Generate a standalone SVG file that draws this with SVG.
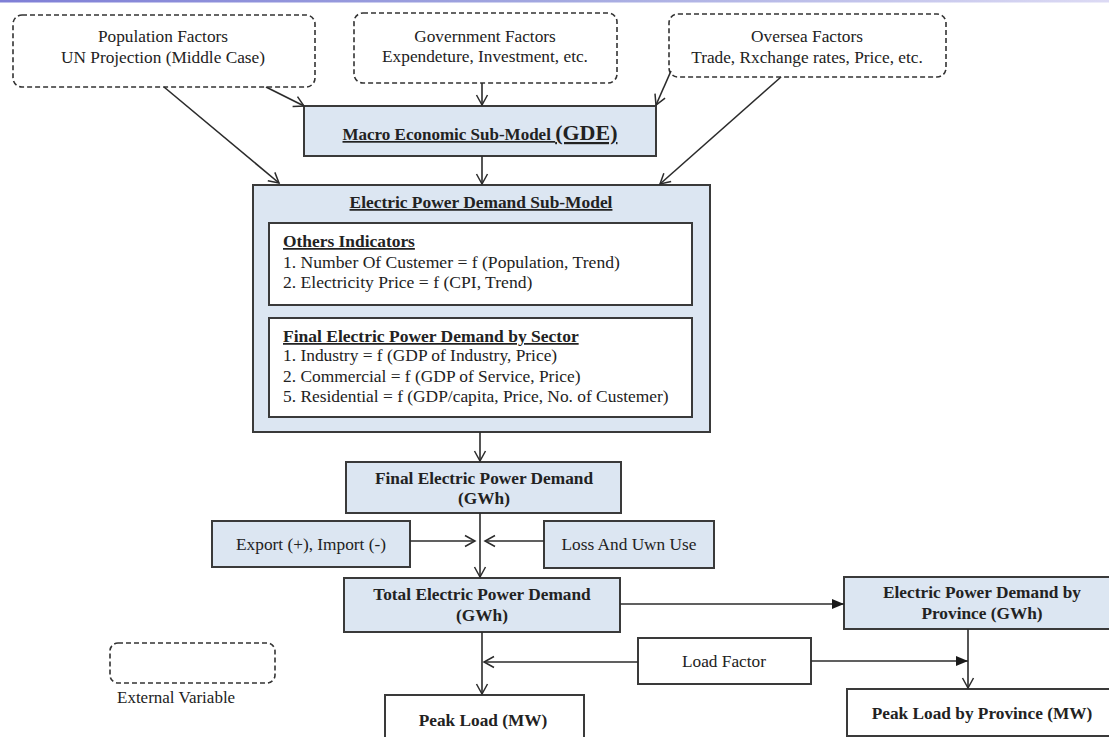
<svg xmlns="http://www.w3.org/2000/svg" width="1109" height="737" viewBox="0 0 1109 737" font-family="'Liberation Serif', 'Times New Roman', serif">
  <defs>
    <linearGradient id="topband" x1="0" y1="0" x2="1" y2="0">
      <stop offset="0" stop-color="#7f7fd6"/>
      <stop offset="0.5" stop-color="#a3a8e0"/>
      <stop offset="1" stop-color="#dcdaf4"/>
    </linearGradient>
    <marker id="open" markerUnits="userSpaceOnUse" markerWidth="14" markerHeight="14" refX="11" refY="7" orient="auto">
      <path d="M1,1.5 L11,7 L1,12.5" fill="none" stroke="#2b2b2b" stroke-width="1.5"/>
    </marker>
    <marker id="solid" markerUnits="userSpaceOnUse" markerWidth="14" markerHeight="14" refX="12" refY="7" orient="auto">
      <path d="M0,2 L12,7 L0,12 Z" fill="#1a1a1a"/>
    </marker>
  </defs>
  <style>
    .ext { fill: #ffffff; stroke: #333333; stroke-width: 1.6; stroke-dasharray: 5 3; }
    .blue { fill: #dce6f2; stroke: #3a3a3a; stroke-width: 2; }
    .white { fill: #ffffff; stroke: #3a3a3a; stroke-width: 2; }
    text { font-family: 'Liberation Serif', 'Times New Roman', serif; fill: #222222; }
    .n { font-size: 17.3px; }
    .b { font-size: 17.3px; font-weight: bold; }
    .c { text-anchor: middle; }
    .u { text-decoration: underline; }
    .line { stroke: #2b2b2b; stroke-width: 1.6; fill: none; }
  </style>

  <rect x="0" y="0" width="1109" height="2.5" fill="url(#topband)"/>

  <!-- external inputs -->
  <g id="population">
    <rect class="ext" x="13" y="15" width="302" height="72" rx="9"/>
    <text class="n c" x="163" y="42">Population Factors</text>
    <text class="n c" x="163" y="63">UN Projection (Middle Case)</text>
  </g>
  <g id="government">
    <rect class="ext" x="354" y="13" width="263" height="70" rx="9"/>
    <text class="n c" x="485" y="42">Government Factors</text>
    <text class="n c" x="485" y="62">Expendeture, Investment, etc.</text>
  </g>
  <g id="oversea">
    <rect class="ext" x="669" y="14" width="277" height="63" rx="9"/>
    <text class="n c" x="807" y="42">Oversea Factors</text>
    <text class="n c" x="807" y="63">Trade, Rxchange  rates, Price, etc.</text>
  </g>

  <!-- macro model -->
  <g id="macro">
    <rect class="blue" x="304" y="106" width="352" height="50"/>
    <text class="c u" x="480" y="140" font-weight="bold" font-size="17px">Macro Economic Sub-Model <tspan font-size="22px">(GDE)</tspan></text>
  </g>

  <!-- demand model -->
  <g id="demand-submodel">
    <rect class="blue" x="253" y="185" width="457" height="247"/>
    <text class="c u" x="481" y="208" font-weight="bold" font-size="17.4px">Electric Power Demand Sub-Model</text>
  </g>
  <g id="others-indicators">
    <rect class="white" x="269" y="223" width="423" height="82"/>
    <text class="u" x="283" y="247" font-weight="bold" font-size="17.4px">Others Indicators</text>
    <text x="283" y="268" font-size="17.6px">1. Number Of Custemer = f (Population, Trend)</text>
    <text x="283" y="288" font-size="17.6px">2. Electricity  Price = f (CPI, Trend)</text>
  </g>
  <g id="sector-demand">
    <rect class="white" x="269" y="318" width="423" height="99"/>
    <text class="u" x="283" y="342" font-weight="bold" font-size="17.5px">Final Electric Power Demand by  Sector</text>
    <text x="283" y="361" font-size="17.4px">1. Industry = f (GDP of Industry, Price)</text>
    <text x="283" y="382" font-size="17.4px">2. Commercial  = f (GDP of Service,  Price)</text>
    <text x="283" y="402" font-size="17.4px">5. Residential = f (GDP/capita, Price, No. of Custemer)</text>
  </g>

  <g id="final-demand">
    <rect class="blue" x="346" y="462" width="275" height="51"/>
    <text class="b c" x="484" y="484">Final Electric Power Demand</text>
    <text class="b c" x="484" y="504">(GWh)</text>
  </g>
  <g id="export-import">
    <rect class="blue" x="212" y="521" width="198" height="46"/>
    <text class="n c" x="311" y="550">Export (+), Import (-)</text>
  </g>
  <g id="loss-own-use">
    <rect class="blue" x="544" y="521" width="170" height="47"/>
    <text class="n c" x="629" y="550">Loss And Uwn Use</text>
  </g>
  <g id="total-demand">
    <rect class="blue" x="344" y="578" width="276" height="54"/>
    <text class="b c" x="482" y="600">Total Electric Power Demand</text>
    <text class="b c" x="482" y="621">(GWh)</text>
  </g>
  <g id="province-demand">
    <rect class="blue" x="844" y="577" width="270" height="52"/>
    <text class="b c" x="982" y="598" font-size="17px">Electric Power Demand by</text>
    <text class="b c" x="982" y="619" font-size="17px">Province (GWh)</text>
  </g>
  <g id="load-factor">
    <rect class="white" x="638" y="638" width="173" height="46"/>
    <text class="n c" x="724" y="667">Load Factor</text>
  </g>
  <g id="peak-load">
    <rect class="white" x="385" y="695" width="199" height="50"/>
    <text class="b c" x="483" y="726">Peak Load  (MW)</text>
  </g>
  <g id="peak-load-province">
    <rect class="white" x="847" y="689" width="270" height="47"/>
    <text class="b c" x="982" y="719">Peak Load  by  Province (MW)</text>
  </g>

  <!-- legend -->
  <g id="legend">
    <rect class="ext" x="110" y="643" width="165" height="40" rx="8"/>
    <text x="117" y="703" font-size="17px">External  Variable</text>
  </g>

  <!-- connectors -->
  <g id="connectors">
    <line class="line" x1="164" y1="87" x2="279" y2="183" marker-end="url(#open)"/>
    <line class="line" x1="266" y1="87" x2="304" y2="106" marker-end="url(#open)"/>
    <line class="line" x1="482" y1="83" x2="482" y2="105" marker-end="url(#open)"/>
    <line class="line" x1="671" y1="71" x2="656" y2="105" marker-end="url(#open)"/>
    <line class="line" x1="781" y1="77" x2="660" y2="184" marker-end="url(#open)"/>
    <line class="line" x1="482" y1="156" x2="482" y2="184" marker-end="url(#open)"/>
    <line class="line" x1="480" y1="432" x2="480" y2="461" marker-end="url(#open)"/>
    <line class="line" x1="480" y1="513" x2="480" y2="577" marker-end="url(#open)"/>
    <line class="line" x1="410" y1="541" x2="475" y2="541" marker-end="url(#open)"/>
    <line class="line" x1="544" y1="541" x2="485" y2="541" marker-end="url(#open)"/>
    <line class="line" x1="620" y1="604" x2="844" y2="604" marker-end="url(#solid)"/>
    <line class="line" x1="482" y1="632" x2="482" y2="694" marker-end="url(#open)"/>
    <line class="line" x1="638" y1="662" x2="484" y2="662" marker-end="url(#open)"/>
    <line class="line" x1="811" y1="661" x2="968" y2="661" marker-end="url(#solid)"/>
    <line class="line" x1="968" y1="629" x2="968" y2="688" marker-end="url(#open)"/>
  </g>
</svg>
